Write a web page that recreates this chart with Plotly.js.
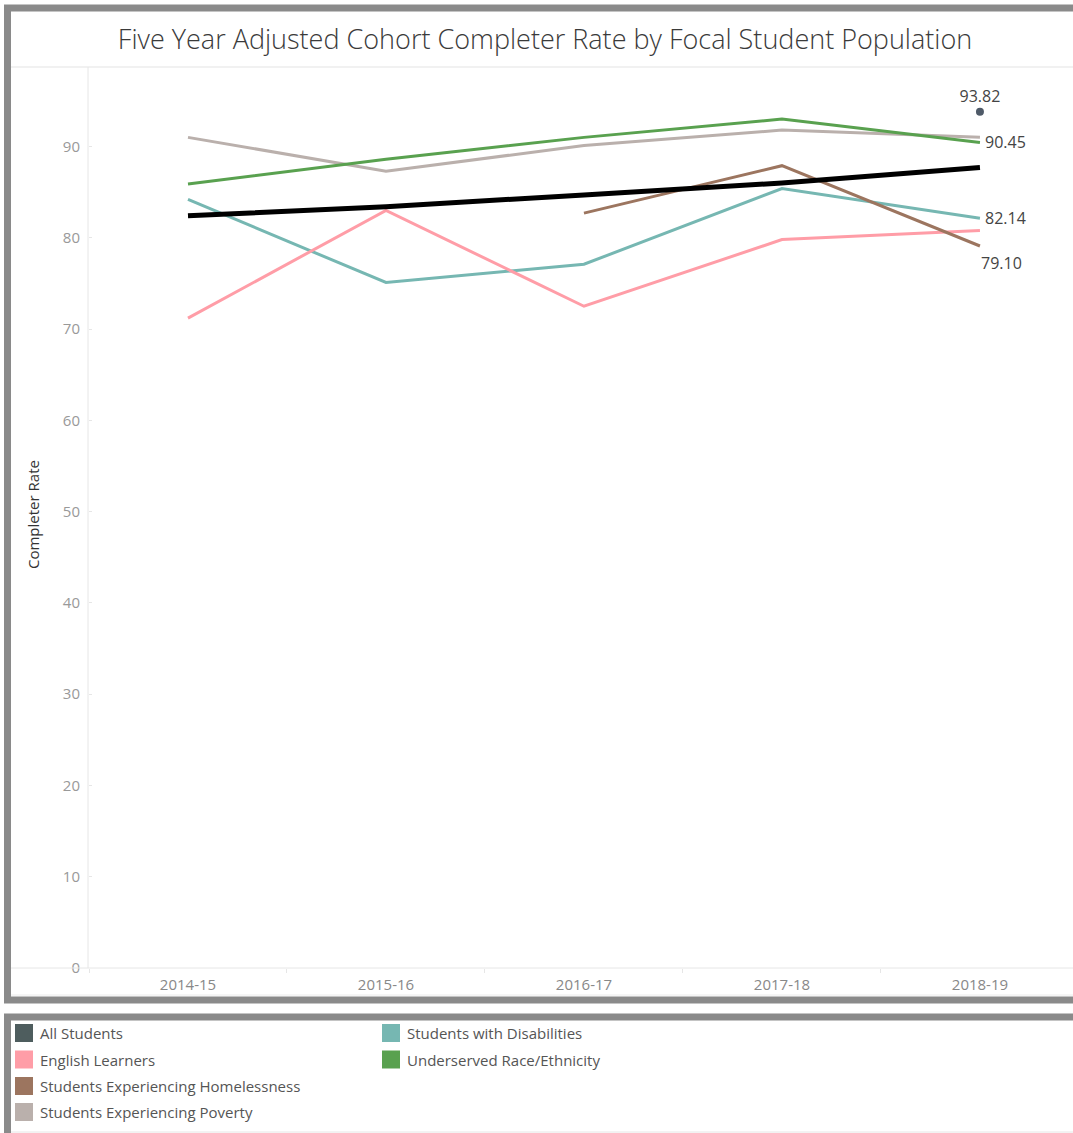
<!DOCTYPE html>
<html>
<head>
<meta charset="utf-8">
<script src="https://cdn.plot.ly/plotly-3.0.1.min.js"></script>
<style>
  html, body { margin: 0; padding: 0; background: #ffffff; }
  #chart { width: 1073px; height: 1133px; }
</style>
</head>
<body>
<div id="chart"></div>
<script>
// School years on the category axis
const years = ['2014-15', '2015-16', '2016-17', '2017-18', '2018-19'];

// Five year adjusted cohort completer rate (%) per focal student population
const allStudents = [null, null, null, null, 93.82];
const englishLearners = [71.2, 83.0, 72.5, 79.8, 80.8];
const homelessness = [null, null, 82.7, 87.9, 79.10];
const poverty = [91.0, 87.3, 90.1, 91.8, 91.0];
const disabilities = [84.2, 75.1, 77.1, 85.4, 82.14];
const underserved = [85.9, 88.6, 91.0, 93.0, 90.45];
// Overall trend line across the years
const trendLine = [82.4, 83.4, 84.7, 86.0, 87.7];

// Legend entries (column-major, four rows per column)
const legendNames = [
  'All Students',
  'English Learners',
  'Students Experiencing Homelessness',
  'Students Experiencing Poverty',
  'Students with Disabilities',
  'Underserved Race/Ethnicity'
];
const legendColors = ['#4e5d5e', '#ff9da7', '#9c755f', '#bab0ac', '#76b7b2', '#59a14f'];

const FONT = '"Open Sans", "Noto Sans", sans-serif';
const W = 1073, H = 1133;
// plot area in page pixels
const PL = 89, PR = 1073, PT = 68, PB = 968;
const px = x => (x - PL) / (PR - PL);
const py = y => (PB - y) / (PB - PT);
const LABEL_FONT = { family: FONT, size: 16, color: '#444444' };

// label only the last point of a series
function lastLabel(values) {
  const last = values.length - 1;
  return values.map((v, i) => (i === last && v !== null) ? v.toFixed(2) : '');
}

function series(name, values, color, width) {
  return {
    type: 'scatter',
    mode: 'lines',
    name: name,
    x: years,
    y: values,
    line: { color: color, width: width },
    cliponaxis: false,
    connectgaps: false,
    hoverinfo: 'x+y+name'
  };
}

const traces = [
  series('Students Experiencing Poverty', poverty, legendColors[3], 3),
  series('Underserved Race/Ethnicity', underserved, legendColors[5], 3),
  series('Students with Disabilities', disabilities, legendColors[4], 3),
  series('English Learners', englishLearners, legendColors[1], 3),
  series('Students Experiencing Homelessness', homelessness, legendColors[2], 3),
  series('Trend', trendLine, '#000000', 5),
  {
    type: 'scatter',
    mode: 'markers+text',
    name: 'All Students',
    x: years,
    y: allStudents,
    marker: { color: '#4f5a68', size: 8 },
    text: lastLabel(allStudents),
    textposition: 'top center',
    textfont: LABEL_FONT,
    cliponaxis: false
  }
];

const shapes = [];
const annotations = [];

// value labels at the last year of selected series
const lastIdx = years.length - 1;
[[underserved, 3, 0], [disabilities, 3, 0], [homelessness, -1, -17]].forEach(([vals, dx, dy]) => {
  annotations.push({ xref: 'x', yref: 'y', x: years[lastIdx], y: vals[lastIdx],
    text: vals[lastIdx].toFixed(2), showarrow: false,
    xanchor: 'left', yanchor: 'middle', xshift: dx, yshift: dy, font: LABEL_FONT });
});

// outer frame of the chart panel
shapes.push({ type: 'rect', xref: 'paper', yref: 'paper',
  x0: px(7.5), x1: px(1100), y0: py(8), y1: py(1000),
  line: { color: '#8a8a8a', width: 7 }, fillcolor: 'rgba(0,0,0,0)', layer: 'above' });
// frame of the legend panel
shapes.push({ type: 'rect', xref: 'paper', yref: 'paper',
  x0: px(7.5), x1: px(1100), y0: py(1017), y1: py(1160),
  line: { color: '#8a8a8a', width: 7 }, fillcolor: 'rgba(0,0,0,0)', layer: 'above' });
// thin dividers: under the title, along the axis header, bottom of the panels
[[67, '#e3e3e3'], [968, '#e6e6e6'], [995, '#ececec'], [1132, '#e6e6e6']].forEach(([y, c]) => {
  shapes.push({ type: 'line', xref: 'paper', yref: 'paper',
    x0: px(11), x1: px(1073), y0: py(y), y1: py(y), line: { color: c, width: 1 } });
});
// vertical divider beside the value axis
shapes.push({ type: 'line', xref: 'paper', yref: 'paper',
  x0: px(88), x1: px(88), y0: py(67), y1: py(968), line: { color: '#e6e6e6', width: 1 } });

// legend swatches and labels
const rowY = [1033, 1059.5, 1086, 1112];
legendNames.forEach((name, i) => {
  const col = Math.floor(i / 4), row = i % 4;
  const sx = col === 0 ? 15 : 382;
  const cy = rowY[row];
  shapes.push({ type: 'rect', xref: 'paper', yref: 'paper',
    x0: px(sx), x1: px(sx + 18), y0: py(cy - 9), y1: py(cy + 9),
    line: { width: 0 }, fillcolor: legendColors[i] });
  annotations.push({ xref: 'paper', yref: 'paper', x: px(sx + 23), y: py(cy),
    xanchor: 'left', yanchor: 'middle', showarrow: false, text: name,
    font: { family: FONT, size: 15, color: '#555555' } });
});

// value axis title
annotations.push({ xref: 'paper', yref: 'paper', x: px(33), y: py(515),
  xanchor: 'center', yanchor: 'middle', showarrow: false, textangle: -90,
  text: 'Completer Rate', font: { family: FONT, size: 15, color: '#333333' } });

const layout = {
  width: W, height: H,
  margin: { l: PL, r: W - PR, t: PT, b: H - PB, pad: 0 },
  paper_bgcolor: '#ffffff', plot_bgcolor: '#ffffff',
  showlegend: false,
  title: {
    text: 'Five Year Adjusted Cohort Completer Rate by Focal Student Population',
    font: { family: FONT, size: 27, color: '#3a3a3a', weight: 300 },
    xref: 'container', yref: 'container',
    x: 545 / W, xanchor: 'center', y: 1 - 40 / H, yanchor: 'middle'
  },
  xaxis: {
    type: 'category', range: [-0.5, 4.47], fixedrange: true,
    showgrid: false, zeroline: false, showline: false,
    ticks: 'outside', tickson: 'boundaries', ticklen: 4, tickcolor: '#e6e6e6',
    tickfont: { family: FONT, size: 15, color: '#888888' },
    ticklabelstandoff: 6
  },
  yaxis: {
    range: [0, 98.6], fixedrange: true,
    tickvals: [0, 10, 20, 30, 40, 50, 60, 70, 80, 90],
    showgrid: false, zeroline: false, showline: false,
    ticks: 'inside', ticklen: 3, tickcolor: '#e6e6e6',
    tickfont: { family: FONT, size: 15, color: '#999999' },
    ticklabelstandoff: 8
  },
  shapes: shapes,
  annotations: annotations
};

Plotly.newPlot('chart', traces, layout, { displayModeBar: false, staticPlot: true });
</script>
</body>
</html>
